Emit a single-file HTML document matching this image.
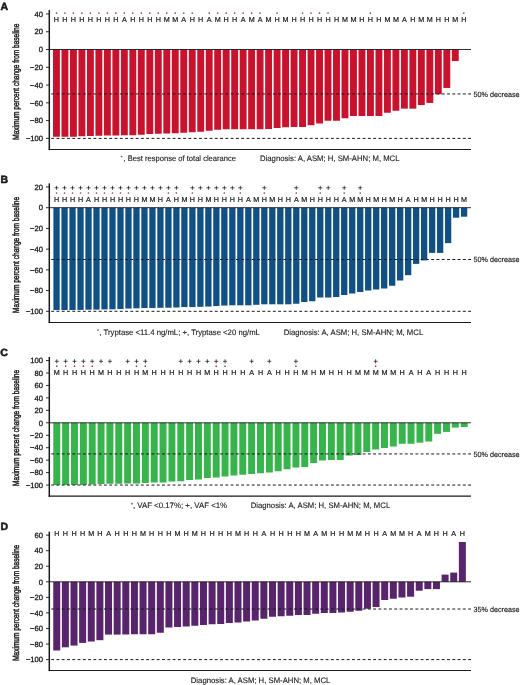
<!DOCTYPE html>
<html><head><meta charset="utf-8"><style>
html,body{margin:0;padding:0;background:#fff;}
svg{display:block;will-change:transform;filter:blur(0.3px);}
text{font-family:"Liberation Sans", sans-serif;fill:#1a1a1a;stroke:#1a1a1a;stroke-width:0.18px;text-rendering:geometricPrecision;}
</style></head><body>
<svg width="520" height="685" viewBox="0 0 520 685">
<rect x="53" y="49.5" width="6.9" height="87.25" fill="#c9132e"/>
<rect x="61.49" y="49.5" width="6.9" height="87.25" fill="#c9132e"/>
<rect x="69.97" y="49.5" width="6.9" height="87.25" fill="#c9132e"/>
<rect x="78.46" y="49.5" width="6.9" height="86.75" fill="#c9132e"/>
<rect x="86.94" y="49.5" width="6.9" height="86.5" fill="#c9132e"/>
<rect x="95.43" y="49.5" width="6.9" height="86.25" fill="#c9132e"/>
<rect x="103.92" y="49.5" width="6.9" height="86" fill="#c9132e"/>
<rect x="112.4" y="49.5" width="6.9" height="86" fill="#c9132e"/>
<rect x="120.89" y="49.5" width="6.9" height="85.75" fill="#c9132e"/>
<rect x="129.37" y="49.5" width="6.9" height="85.75" fill="#c9132e"/>
<rect x="137.86" y="49.5" width="6.9" height="85.25" fill="#c9132e"/>
<rect x="146.35" y="49.5" width="6.9" height="84.5" fill="#c9132e"/>
<rect x="154.83" y="49.5" width="6.9" height="84.25" fill="#c9132e"/>
<rect x="163.32" y="49.5" width="6.9" height="84" fill="#c9132e"/>
<rect x="171.8" y="49.5" width="6.9" height="83.75" fill="#c9132e"/>
<rect x="180.29" y="49.5" width="6.9" height="83.25" fill="#c9132e"/>
<rect x="188.78" y="49.5" width="6.9" height="82.75" fill="#c9132e"/>
<rect x="197.26" y="49.5" width="6.9" height="82.25" fill="#c9132e"/>
<rect x="205.75" y="49.5" width="6.9" height="81.25" fill="#c9132e"/>
<rect x="214.23" y="49.5" width="6.9" height="80.25" fill="#c9132e"/>
<rect x="222.72" y="49.5" width="6.9" height="79.75" fill="#c9132e"/>
<rect x="231.21" y="49.5" width="6.9" height="79.75" fill="#c9132e"/>
<rect x="239.69" y="49.5" width="6.9" height="79.75" fill="#c9132e"/>
<rect x="248.18" y="49.5" width="6.9" height="79.75" fill="#c9132e"/>
<rect x="256.66" y="49.5" width="6.9" height="79.75" fill="#c9132e"/>
<rect x="265.15" y="49.5" width="6.9" height="79.5" fill="#c9132e"/>
<rect x="273.64" y="49.5" width="6.9" height="78.5" fill="#c9132e"/>
<rect x="282.12" y="49.5" width="6.9" height="77.75" fill="#c9132e"/>
<rect x="290.61" y="49.5" width="6.9" height="77.5" fill="#c9132e"/>
<rect x="299.09" y="49.5" width="6.9" height="77.5" fill="#c9132e"/>
<rect x="307.58" y="49.5" width="6.9" height="75.75" fill="#c9132e"/>
<rect x="316.07" y="49.5" width="6.9" height="74" fill="#c9132e"/>
<rect x="324.55" y="49.5" width="6.9" height="71.25" fill="#c9132e"/>
<rect x="333.04" y="49.5" width="6.9" height="71.25" fill="#c9132e"/>
<rect x="341.52" y="49.5" width="6.9" height="68.75" fill="#c9132e"/>
<rect x="350.01" y="49.5" width="6.9" height="66.5" fill="#c9132e"/>
<rect x="358.5" y="49.5" width="6.9" height="66.5" fill="#c9132e"/>
<rect x="366.98" y="49.5" width="6.9" height="66.5" fill="#c9132e"/>
<rect x="375.47" y="49.5" width="6.9" height="66.5" fill="#c9132e"/>
<rect x="383.95" y="49.5" width="6.9" height="63.25" fill="#c9132e"/>
<rect x="392.44" y="49.5" width="6.9" height="61.25" fill="#c9132e"/>
<rect x="400.93" y="49.5" width="6.9" height="59.15" fill="#c9132e"/>
<rect x="409.41" y="49.5" width="6.9" height="59.15" fill="#c9132e"/>
<rect x="417.9" y="49.5" width="6.9" height="55.55" fill="#c9132e"/>
<rect x="426.38" y="49.5" width="6.9" height="53.45" fill="#c9132e"/>
<rect x="434.87" y="49.5" width="6.9" height="44.75" fill="#c9132e"/>
<rect x="443.36" y="49.5" width="6.9" height="38.45" fill="#c9132e"/>
<rect x="451.84" y="49.5" width="6.9" height="11.55" fill="#c9132e"/>
<line x1="49.3" y1="49.5" x2="471" y2="49.5" stroke="#1a1a1a" stroke-width="0.9"/>
<line x1="49.3" y1="93.95" x2="471" y2="93.95" stroke="#1a1a1a" stroke-width="1.0" stroke-dasharray="2.9 2.378" stroke-dashoffset="3.378"/>
<text x="473.6" y="96.7" font-size="7.6" textLength="45.9" lengthAdjust="spacingAndGlyphs" style="stroke-width:0.15px">50% decrease</text>
<line x1="49.3" y1="138.4" x2="471" y2="138.4" stroke="#1a1a1a" stroke-width="1.0" stroke-dasharray="2.9 2.378" stroke-dashoffset="3.378"/>
<line x1="49.3" y1="10.1" x2="49.3" y2="150.1" stroke="#1a1a1a" stroke-width="1.5"/>
<line x1="48.7" y1="149.5" x2="471" y2="149.5" stroke="#1a1a1a" stroke-width="1.1"/>
<line x1="46" y1="13.94" x2="49.3" y2="13.94" stroke="#1a1a1a" stroke-width="0.9"/>
<text x="43.0" y="16.64" font-size="7.6" text-anchor="end" style="stroke-width:0.3px">40</text>
<line x1="46" y1="31.72" x2="49.3" y2="31.72" stroke="#1a1a1a" stroke-width="0.9"/>
<text x="43.0" y="34.42" font-size="7.6" text-anchor="end" style="stroke-width:0.3px">20</text>
<line x1="46" y1="49.5" x2="49.3" y2="49.5" stroke="#1a1a1a" stroke-width="0.9"/>
<text x="43.0" y="52.2" font-size="7.6" text-anchor="end" style="stroke-width:0.3px">0</text>
<line x1="46" y1="67.28" x2="49.3" y2="67.28" stroke="#1a1a1a" stroke-width="0.9"/>
<text x="43.0" y="69.98" font-size="7.6" text-anchor="end" style="stroke-width:0.3px">−20</text>
<line x1="46" y1="85.06" x2="49.3" y2="85.06" stroke="#1a1a1a" stroke-width="0.9"/>
<text x="43.0" y="87.76" font-size="7.6" text-anchor="end" style="stroke-width:0.3px">−40</text>
<line x1="46" y1="102.84" x2="49.3" y2="102.84" stroke="#1a1a1a" stroke-width="0.9"/>
<text x="43.0" y="105.54" font-size="7.6" text-anchor="end" style="stroke-width:0.3px">−60</text>
<line x1="46" y1="120.62" x2="49.3" y2="120.62" stroke="#1a1a1a" stroke-width="0.9"/>
<text x="43.0" y="123.32" font-size="7.6" text-anchor="end" style="stroke-width:0.3px">−80</text>
<line x1="46" y1="138.4" x2="49.3" y2="138.4" stroke="#1a1a1a" stroke-width="0.9"/>
<text x="43.0" y="141.1" font-size="7.6" text-anchor="end" style="stroke-width:0.3px">−100</text>
<text x="56.45" y="22.3" font-size="7.2" text-anchor="middle" style="stroke-width:0.2px">H</text>
<text x="64.94" y="22.3" font-size="7.2" text-anchor="middle" style="stroke-width:0.2px">H</text>
<text x="73.42" y="22.3" font-size="7.2" text-anchor="middle" style="stroke-width:0.2px">H</text>
<text x="81.91" y="22.3" font-size="7.2" text-anchor="middle" style="stroke-width:0.2px">H</text>
<text x="90.39" y="22.3" font-size="7.2" text-anchor="middle" style="stroke-width:0.2px">H</text>
<text x="98.88" y="22.3" font-size="7.2" text-anchor="middle" style="stroke-width:0.2px">H</text>
<text x="107.37" y="22.3" font-size="7.2" text-anchor="middle" style="stroke-width:0.2px">H</text>
<text x="115.85" y="22.3" font-size="7.2" text-anchor="middle" style="stroke-width:0.2px">H</text>
<text x="124.34" y="22.3" font-size="7.2" text-anchor="middle" style="stroke-width:0.2px">A</text>
<text x="132.82" y="22.3" font-size="7.2" text-anchor="middle" style="stroke-width:0.2px">H</text>
<text x="141.31" y="22.3" font-size="7.2" text-anchor="middle" style="stroke-width:0.2px">H</text>
<text x="149.8" y="22.3" font-size="7.2" text-anchor="middle" style="stroke-width:0.2px">H</text>
<text x="158.28" y="22.3" font-size="7.2" text-anchor="middle" style="stroke-width:0.2px">H</text>
<text x="166.77" y="22.3" font-size="7.2" text-anchor="middle" style="stroke-width:0.2px">M</text>
<text x="175.25" y="22.3" font-size="7.2" text-anchor="middle" style="stroke-width:0.2px">M</text>
<text x="183.74" y="22.3" font-size="7.2" text-anchor="middle" style="stroke-width:0.2px">A</text>
<text x="192.23" y="22.3" font-size="7.2" text-anchor="middle" style="stroke-width:0.2px">H</text>
<text x="200.71" y="22.3" font-size="7.2" text-anchor="middle" style="stroke-width:0.2px">H</text>
<text x="209.2" y="22.3" font-size="7.2" text-anchor="middle" style="stroke-width:0.2px">A</text>
<text x="217.68" y="22.3" font-size="7.2" text-anchor="middle" style="stroke-width:0.2px">M</text>
<text x="226.17" y="22.3" font-size="7.2" text-anchor="middle" style="stroke-width:0.2px">H</text>
<text x="234.66" y="22.3" font-size="7.2" text-anchor="middle" style="stroke-width:0.2px">H</text>
<text x="243.14" y="22.3" font-size="7.2" text-anchor="middle" style="stroke-width:0.2px">A</text>
<text x="251.63" y="22.3" font-size="7.2" text-anchor="middle" style="stroke-width:0.2px">M</text>
<text x="260.11" y="22.3" font-size="7.2" text-anchor="middle" style="stroke-width:0.2px">A</text>
<text x="268.6" y="22.3" font-size="7.2" text-anchor="middle" style="stroke-width:0.2px">M</text>
<text x="277.09" y="22.3" font-size="7.2" text-anchor="middle" style="stroke-width:0.2px">H</text>
<text x="285.57" y="22.3" font-size="7.2" text-anchor="middle" style="stroke-width:0.2px">M</text>
<text x="294.06" y="22.3" font-size="7.2" text-anchor="middle" style="stroke-width:0.2px">H</text>
<text x="302.54" y="22.3" font-size="7.2" text-anchor="middle" style="stroke-width:0.2px">H</text>
<text x="311.03" y="22.3" font-size="7.2" text-anchor="middle" style="stroke-width:0.2px">H</text>
<text x="319.52" y="22.3" font-size="7.2" text-anchor="middle" style="stroke-width:0.2px">H</text>
<text x="328" y="22.3" font-size="7.2" text-anchor="middle" style="stroke-width:0.2px">H</text>
<text x="336.49" y="22.3" font-size="7.2" text-anchor="middle" style="stroke-width:0.2px">H</text>
<text x="344.97" y="22.3" font-size="7.2" text-anchor="middle" style="stroke-width:0.2px">M</text>
<text x="353.46" y="22.3" font-size="7.2" text-anchor="middle" style="stroke-width:0.2px">M</text>
<text x="361.95" y="22.3" font-size="7.2" text-anchor="middle" style="stroke-width:0.2px">H</text>
<text x="370.43" y="22.3" font-size="7.2" text-anchor="middle" style="stroke-width:0.2px">H</text>
<text x="378.92" y="22.3" font-size="7.2" text-anchor="middle" style="stroke-width:0.2px">H</text>
<text x="387.4" y="22.3" font-size="7.2" text-anchor="middle" style="stroke-width:0.2px">M</text>
<text x="395.89" y="22.3" font-size="7.2" text-anchor="middle" style="stroke-width:0.2px">M</text>
<text x="404.38" y="22.3" font-size="7.2" text-anchor="middle" style="stroke-width:0.2px">A</text>
<text x="412.86" y="22.3" font-size="7.2" text-anchor="middle" style="stroke-width:0.2px">H</text>
<text x="421.35" y="22.3" font-size="7.2" text-anchor="middle" style="stroke-width:0.2px">M</text>
<text x="429.83" y="22.3" font-size="7.2" text-anchor="middle" style="stroke-width:0.2px">M</text>
<text x="438.32" y="22.3" font-size="7.2" text-anchor="middle" style="stroke-width:0.2px">H</text>
<text x="446.81" y="22.3" font-size="7.2" text-anchor="middle" style="stroke-width:0.2px">H</text>
<text x="455.29" y="22.3" font-size="7.2" text-anchor="middle" style="stroke-width:0.2px">M</text>
<text x="463.78" y="22.3" font-size="7.2" text-anchor="middle" style="stroke-width:0.2px">H</text>
<circle cx="56.45" cy="13.1" r="0.85" fill="#b23a5a"/>
<circle cx="64.94" cy="13.1" r="0.85" fill="#b23a5a"/>
<circle cx="73.42" cy="13.1" r="0.85" fill="#b23a5a"/>
<circle cx="81.91" cy="13.1" r="0.85" fill="#b23a5a"/>
<circle cx="90.39" cy="13.1" r="0.85" fill="#b23a5a"/>
<circle cx="98.88" cy="13.1" r="0.85" fill="#b23a5a"/>
<circle cx="107.37" cy="13.1" r="0.85" fill="#b23a5a"/>
<circle cx="115.85" cy="13.1" r="0.85" fill="#b23a5a"/>
<circle cx="124.34" cy="13.1" r="0.85" fill="#b23a5a"/>
<circle cx="132.82" cy="13.1" r="0.85" fill="#b23a5a"/>
<circle cx="141.31" cy="13.1" r="0.85" fill="#b23a5a"/>
<circle cx="149.8" cy="13.1" r="0.85" fill="#b23a5a"/>
<circle cx="158.28" cy="13.1" r="0.85" fill="#b23a5a"/>
<circle cx="166.77" cy="13.1" r="0.85" fill="#b23a5a"/>
<circle cx="175.25" cy="13.1" r="0.85" fill="#b23a5a"/>
<circle cx="183.74" cy="13.1" r="0.85" fill="#b23a5a"/>
<circle cx="192.23" cy="13.1" r="0.85" fill="#b23a5a"/>
<circle cx="209.2" cy="13.1" r="0.85" fill="#b23a5a"/>
<circle cx="217.68" cy="13.1" r="0.85" fill="#b23a5a"/>
<circle cx="226.17" cy="13.1" r="0.85" fill="#b23a5a"/>
<circle cx="234.66" cy="13.1" r="0.85" fill="#b23a5a"/>
<circle cx="243.14" cy="13.1" r="0.85" fill="#b23a5a"/>
<circle cx="251.63" cy="13.1" r="0.85" fill="#b23a5a"/>
<circle cx="260.11" cy="13.1" r="0.85" fill="#b23a5a"/>
<circle cx="277.09" cy="13.1" r="0.85" fill="#b23a5a"/>
<circle cx="302.54" cy="13.1" r="0.85" fill="#b23a5a"/>
<circle cx="311.03" cy="13.1" r="0.85" fill="#b23a5a"/>
<circle cx="319.52" cy="13.1" r="0.85" fill="#b23a5a"/>
<circle cx="328" cy="13.1" r="0.85" fill="#b23a5a"/>
<circle cx="370.43" cy="13.1" r="0.85" fill="#b23a5a"/>
<circle cx="463.78" cy="13.1" r="0.85" fill="#b23a5a"/>
<circle cx="121.6" cy="156.5" r="0.85" fill="#b23a5a"/>
<text x="123.6" y="161" font-size="7.9" textLength="112.4" lengthAdjust="spacingAndGlyphs" style="stroke-width:0.12px">, Best response of total clearance</text>
<text x="260" y="161" font-size="7.9" textLength="139.5" lengthAdjust="spacingAndGlyphs" style="stroke-width:0.12px">Diagnosis: A, ASM; H, SM-AHN; M, MCL</text>
<text x="0.5" y="9.6" font-size="10.5" font-weight="bold" style="stroke-width:0.55px">A</text>
<text transform="translate(18.6 81.7) rotate(-90) scale(0.725 1)" text-anchor="middle" font-size="9" style="stroke-width:0.45px">Maximum percent change from baseline</text>
<rect x="53.4" y="207.7" width="6.3" height="102.35" fill="#105087"/>
<rect x="61.39" y="207.7" width="6.3" height="102.35" fill="#105087"/>
<rect x="69.38" y="207.7" width="6.3" height="102.35" fill="#105087"/>
<rect x="77.37" y="207.7" width="6.3" height="102.2" fill="#105087"/>
<rect x="85.36" y="207.7" width="6.3" height="102" fill="#105087"/>
<rect x="93.35" y="207.7" width="6.3" height="101.9" fill="#105087"/>
<rect x="101.35" y="207.7" width="6.3" height="101.7" fill="#105087"/>
<rect x="109.34" y="207.7" width="6.3" height="101.6" fill="#105087"/>
<rect x="117.33" y="207.7" width="6.3" height="101.35" fill="#105087"/>
<rect x="125.32" y="207.7" width="6.3" height="100.85" fill="#105087"/>
<rect x="133.31" y="207.7" width="6.3" height="100.6" fill="#105087"/>
<rect x="141.3" y="207.7" width="6.3" height="100.35" fill="#105087"/>
<rect x="149.29" y="207.7" width="6.3" height="100.35" fill="#105087"/>
<rect x="157.28" y="207.7" width="6.3" height="100.1" fill="#105087"/>
<rect x="165.27" y="207.7" width="6.3" height="100" fill="#105087"/>
<rect x="173.26" y="207.7" width="6.3" height="99.8" fill="#105087"/>
<rect x="181.26" y="207.7" width="6.3" height="99.35" fill="#105087"/>
<rect x="189.25" y="207.7" width="6.3" height="99.35" fill="#105087"/>
<rect x="197.24" y="207.7" width="6.3" height="99.1" fill="#105087"/>
<rect x="205.23" y="207.7" width="6.3" height="98.85" fill="#105087"/>
<rect x="213.22" y="207.7" width="6.3" height="98.35" fill="#105087"/>
<rect x="221.21" y="207.7" width="6.3" height="97.85" fill="#105087"/>
<rect x="229.2" y="207.7" width="6.3" height="97.6" fill="#105087"/>
<rect x="237.19" y="207.7" width="6.3" height="97.6" fill="#105087"/>
<rect x="245.18" y="207.7" width="6.3" height="97.6" fill="#105087"/>
<rect x="253.17" y="207.7" width="6.3" height="97.1" fill="#105087"/>
<rect x="261.17" y="207.7" width="6.3" height="96.6" fill="#105087"/>
<rect x="269.16" y="207.7" width="6.3" height="96.6" fill="#105087"/>
<rect x="277.15" y="207.7" width="6.3" height="96.6" fill="#105087"/>
<rect x="285.14" y="207.7" width="6.3" height="96.6" fill="#105087"/>
<rect x="293.13" y="207.7" width="6.3" height="96.05" fill="#105087"/>
<rect x="301.12" y="207.7" width="6.3" height="94.3" fill="#105087"/>
<rect x="309.11" y="207.7" width="6.3" height="93.55" fill="#105087"/>
<rect x="317.1" y="207.7" width="6.3" height="89.8" fill="#105087"/>
<rect x="325.09" y="207.7" width="6.3" height="89.8" fill="#105087"/>
<rect x="333.08" y="207.7" width="6.3" height="89.3" fill="#105087"/>
<rect x="341.08" y="207.7" width="6.3" height="87.3" fill="#105087"/>
<rect x="349.07" y="207.7" width="6.3" height="85.8" fill="#105087"/>
<rect x="357.06" y="207.7" width="6.3" height="84.3" fill="#105087"/>
<rect x="365.05" y="207.7" width="6.3" height="82.8" fill="#105087"/>
<rect x="373.04" y="207.7" width="6.3" height="81.8" fill="#105087"/>
<rect x="381.03" y="207.7" width="6.3" height="80.8" fill="#105087"/>
<rect x="389.02" y="207.7" width="6.3" height="78.05" fill="#105087"/>
<rect x="397.01" y="207.7" width="6.3" height="72.8" fill="#105087"/>
<rect x="405" y="207.7" width="6.3" height="67.5" fill="#105087"/>
<rect x="412.99" y="207.7" width="6.3" height="56.2" fill="#105087"/>
<rect x="420.99" y="207.7" width="6.3" height="52.7" fill="#105087"/>
<rect x="428.98" y="207.7" width="6.3" height="45.2" fill="#105087"/>
<rect x="436.97" y="207.7" width="6.3" height="45.2" fill="#105087"/>
<rect x="444.96" y="207.7" width="6.3" height="35.4" fill="#105087"/>
<rect x="452.95" y="207.7" width="6.3" height="10" fill="#105087"/>
<rect x="460.94" y="207.7" width="6.3" height="9" fill="#105087"/>
<line x1="49.3" y1="207.7" x2="471" y2="207.7" stroke="#1a1a1a" stroke-width="0.9"/>
<line x1="49.3" y1="259.5" x2="471" y2="259.5" stroke="#1a1a1a" stroke-width="1.0" stroke-dasharray="2.9 2.378" stroke-dashoffset="3.378"/>
<text x="473.6" y="262.25" font-size="7.6" textLength="45.9" lengthAdjust="spacingAndGlyphs" style="stroke-width:0.15px">50% decrease</text>
<line x1="49.3" y1="311.3" x2="471" y2="311.3" stroke="#1a1a1a" stroke-width="1.0" stroke-dasharray="2.9 2.378" stroke-dashoffset="3.378"/>
<line x1="49.3" y1="183.4" x2="49.3" y2="323.1" stroke="#1a1a1a" stroke-width="1.5"/>
<line x1="48.7" y1="322.5" x2="471" y2="322.5" stroke="#1a1a1a" stroke-width="1.1"/>
<line x1="46" y1="186.98" x2="49.3" y2="186.98" stroke="#1a1a1a" stroke-width="0.9"/>
<text x="43.0" y="189.68" font-size="7.6" text-anchor="end" style="stroke-width:0.3px">20</text>
<line x1="46" y1="207.7" x2="49.3" y2="207.7" stroke="#1a1a1a" stroke-width="0.9"/>
<text x="43.0" y="210.4" font-size="7.6" text-anchor="end" style="stroke-width:0.3px">0</text>
<line x1="46" y1="228.42" x2="49.3" y2="228.42" stroke="#1a1a1a" stroke-width="0.9"/>
<text x="43.0" y="231.12" font-size="7.6" text-anchor="end" style="stroke-width:0.3px">−20</text>
<line x1="46" y1="249.14" x2="49.3" y2="249.14" stroke="#1a1a1a" stroke-width="0.9"/>
<text x="43.0" y="251.84" font-size="7.6" text-anchor="end" style="stroke-width:0.3px">−40</text>
<line x1="46" y1="269.86" x2="49.3" y2="269.86" stroke="#1a1a1a" stroke-width="0.9"/>
<text x="43.0" y="272.56" font-size="7.6" text-anchor="end" style="stroke-width:0.3px">−60</text>
<line x1="46" y1="290.58" x2="49.3" y2="290.58" stroke="#1a1a1a" stroke-width="0.9"/>
<text x="43.0" y="293.28" font-size="7.6" text-anchor="end" style="stroke-width:0.3px">−80</text>
<line x1="46" y1="311.3" x2="49.3" y2="311.3" stroke="#1a1a1a" stroke-width="0.9"/>
<text x="43.0" y="314" font-size="7.6" text-anchor="end" style="stroke-width:0.3px">−100</text>
<text x="56.55" y="202.1" font-size="7.2" text-anchor="middle" style="stroke-width:0.2px">H</text>
<text x="64.54" y="202.1" font-size="7.2" text-anchor="middle" style="stroke-width:0.2px">H</text>
<text x="72.53" y="202.1" font-size="7.2" text-anchor="middle" style="stroke-width:0.2px">H</text>
<text x="80.52" y="202.1" font-size="7.2" text-anchor="middle" style="stroke-width:0.2px">H</text>
<text x="88.51" y="202.1" font-size="7.2" text-anchor="middle" style="stroke-width:0.2px">A</text>
<text x="96.5" y="202.1" font-size="7.2" text-anchor="middle" style="stroke-width:0.2px">H</text>
<text x="104.5" y="202.1" font-size="7.2" text-anchor="middle" style="stroke-width:0.2px">H</text>
<text x="112.49" y="202.1" font-size="7.2" text-anchor="middle" style="stroke-width:0.2px">H</text>
<text x="120.48" y="202.1" font-size="7.2" text-anchor="middle" style="stroke-width:0.2px">H</text>
<text x="128.47" y="202.1" font-size="7.2" text-anchor="middle" style="stroke-width:0.2px">H</text>
<text x="136.46" y="202.1" font-size="7.2" text-anchor="middle" style="stroke-width:0.2px">H</text>
<text x="144.45" y="202.1" font-size="7.2" text-anchor="middle" style="stroke-width:0.2px">M</text>
<text x="152.44" y="202.1" font-size="7.2" text-anchor="middle" style="stroke-width:0.2px">M</text>
<text x="160.43" y="202.1" font-size="7.2" text-anchor="middle" style="stroke-width:0.2px">H</text>
<text x="168.42" y="202.1" font-size="7.2" text-anchor="middle" style="stroke-width:0.2px">A</text>
<text x="176.41" y="202.1" font-size="7.2" text-anchor="middle" style="stroke-width:0.2px">H</text>
<text x="184.41" y="202.1" font-size="7.2" text-anchor="middle" style="stroke-width:0.2px">M</text>
<text x="192.4" y="202.1" font-size="7.2" text-anchor="middle" style="stroke-width:0.2px">H</text>
<text x="200.39" y="202.1" font-size="7.2" text-anchor="middle" style="stroke-width:0.2px">H</text>
<text x="208.38" y="202.1" font-size="7.2" text-anchor="middle" style="stroke-width:0.2px">M</text>
<text x="216.37" y="202.1" font-size="7.2" text-anchor="middle" style="stroke-width:0.2px">H</text>
<text x="224.36" y="202.1" font-size="7.2" text-anchor="middle" style="stroke-width:0.2px">H</text>
<text x="232.35" y="202.1" font-size="7.2" text-anchor="middle" style="stroke-width:0.2px">H</text>
<text x="240.34" y="202.1" font-size="7.2" text-anchor="middle" style="stroke-width:0.2px">H</text>
<text x="248.33" y="202.1" font-size="7.2" text-anchor="middle" style="stroke-width:0.2px">A</text>
<text x="256.32" y="202.1" font-size="7.2" text-anchor="middle" style="stroke-width:0.2px">M</text>
<text x="264.32" y="202.1" font-size="7.2" text-anchor="middle" style="stroke-width:0.2px">H</text>
<text x="272.31" y="202.1" font-size="7.2" text-anchor="middle" style="stroke-width:0.2px">M</text>
<text x="280.3" y="202.1" font-size="7.2" text-anchor="middle" style="stroke-width:0.2px">H</text>
<text x="288.29" y="202.1" font-size="7.2" text-anchor="middle" style="stroke-width:0.2px">H</text>
<text x="296.28" y="202.1" font-size="7.2" text-anchor="middle" style="stroke-width:0.2px">A</text>
<text x="304.27" y="202.1" font-size="7.2" text-anchor="middle" style="stroke-width:0.2px">M</text>
<text x="312.26" y="202.1" font-size="7.2" text-anchor="middle" style="stroke-width:0.2px">H</text>
<text x="320.25" y="202.1" font-size="7.2" text-anchor="middle" style="stroke-width:0.2px">H</text>
<text x="328.24" y="202.1" font-size="7.2" text-anchor="middle" style="stroke-width:0.2px">H</text>
<text x="336.23" y="202.1" font-size="7.2" text-anchor="middle" style="stroke-width:0.2px">H</text>
<text x="344.23" y="202.1" font-size="7.2" text-anchor="middle" style="stroke-width:0.2px">A</text>
<text x="352.22" y="202.1" font-size="7.2" text-anchor="middle" style="stroke-width:0.2px">M</text>
<text x="360.21" y="202.1" font-size="7.2" text-anchor="middle" style="stroke-width:0.2px">M</text>
<text x="368.2" y="202.1" font-size="7.2" text-anchor="middle" style="stroke-width:0.2px">H</text>
<text x="376.19" y="202.1" font-size="7.2" text-anchor="middle" style="stroke-width:0.2px">M</text>
<text x="384.18" y="202.1" font-size="7.2" text-anchor="middle" style="stroke-width:0.2px">H</text>
<text x="392.17" y="202.1" font-size="7.2" text-anchor="middle" style="stroke-width:0.2px">M</text>
<text x="400.16" y="202.1" font-size="7.2" text-anchor="middle" style="stroke-width:0.2px">H</text>
<text x="408.15" y="202.1" font-size="7.2" text-anchor="middle" style="stroke-width:0.2px">A</text>
<text x="416.14" y="202.1" font-size="7.2" text-anchor="middle" style="stroke-width:0.2px">H</text>
<text x="424.14" y="202.1" font-size="7.2" text-anchor="middle" style="stroke-width:0.2px">M</text>
<text x="432.13" y="202.1" font-size="7.2" text-anchor="middle" style="stroke-width:0.2px">H</text>
<text x="440.12" y="202.1" font-size="7.2" text-anchor="middle" style="stroke-width:0.2px">H</text>
<text x="448.11" y="202.1" font-size="7.2" text-anchor="middle" style="stroke-width:0.2px">H</text>
<text x="456.1" y="202.1" font-size="7.2" text-anchor="middle" style="stroke-width:0.2px">H</text>
<text x="464.09" y="202.1" font-size="7.2" text-anchor="middle" style="stroke-width:0.2px">M</text>
<circle cx="56.55" cy="193" r="0.85" fill="#b23a5a"/>
<circle cx="64.54" cy="193" r="0.85" fill="#b23a5a"/>
<circle cx="72.53" cy="193" r="0.85" fill="#b23a5a"/>
<circle cx="80.52" cy="193" r="0.85" fill="#b23a5a"/>
<circle cx="88.51" cy="193" r="0.85" fill="#b23a5a"/>
<circle cx="96.5" cy="193" r="0.85" fill="#b23a5a"/>
<circle cx="104.5" cy="193" r="0.85" fill="#b23a5a"/>
<circle cx="112.49" cy="193" r="0.85" fill="#b23a5a"/>
<circle cx="120.48" cy="193" r="0.85" fill="#b23a5a"/>
<circle cx="128.47" cy="193" r="0.85" fill="#b23a5a"/>
<circle cx="168.42" cy="193" r="0.85" fill="#b23a5a"/>
<circle cx="176.41" cy="193" r="0.85" fill="#b23a5a"/>
<circle cx="192.4" cy="193" r="0.85" fill="#b23a5a"/>
<circle cx="224.36" cy="193" r="0.85" fill="#b23a5a"/>
<circle cx="240.34" cy="193" r="0.85" fill="#b23a5a"/>
<circle cx="264.32" cy="193" r="0.85" fill="#b23a5a"/>
<circle cx="296.28" cy="193" r="0.85" fill="#b23a5a"/>
<circle cx="320.25" cy="193" r="0.85" fill="#b23a5a"/>
<circle cx="344.23" cy="193" r="0.85" fill="#b23a5a"/>
<circle cx="360.21" cy="193" r="0.85" fill="#b23a5a"/>
<path d="M54.55 187.8H58.55M56.55 185.8V189.8" stroke="#1a1a1a" stroke-width="0.75"/>
<path d="M62.54 187.8H66.54M64.54 185.8V189.8" stroke="#1a1a1a" stroke-width="0.75"/>
<path d="M70.53 187.8H74.53M72.53 185.8V189.8" stroke="#1a1a1a" stroke-width="0.75"/>
<path d="M78.52 187.8H82.52M80.52 185.8V189.8" stroke="#1a1a1a" stroke-width="0.75"/>
<path d="M86.51 187.8H90.51M88.51 185.8V189.8" stroke="#1a1a1a" stroke-width="0.75"/>
<path d="M94.5 187.8H98.5M96.5 185.8V189.8" stroke="#1a1a1a" stroke-width="0.75"/>
<path d="M102.5 187.8H106.5M104.5 185.8V189.8" stroke="#1a1a1a" stroke-width="0.75"/>
<path d="M110.49 187.8H114.49M112.49 185.8V189.8" stroke="#1a1a1a" stroke-width="0.75"/>
<path d="M118.48 187.8H122.48M120.48 185.8V189.8" stroke="#1a1a1a" stroke-width="0.75"/>
<path d="M126.47 187.8H130.47M128.47 185.8V189.8" stroke="#1a1a1a" stroke-width="0.75"/>
<path d="M134.46 187.8H138.46M136.46 185.8V189.8" stroke="#1a1a1a" stroke-width="0.75"/>
<path d="M142.45 187.8H146.45M144.45 185.8V189.8" stroke="#1a1a1a" stroke-width="0.75"/>
<path d="M150.44 187.8H154.44M152.44 185.8V189.8" stroke="#1a1a1a" stroke-width="0.75"/>
<path d="M158.43 187.8H162.43M160.43 185.8V189.8" stroke="#1a1a1a" stroke-width="0.75"/>
<path d="M166.42 187.8H170.42M168.42 185.8V189.8" stroke="#1a1a1a" stroke-width="0.75"/>
<path d="M174.41 187.8H178.41M176.41 185.8V189.8" stroke="#1a1a1a" stroke-width="0.75"/>
<path d="M190.4 187.8H194.4M192.4 185.8V189.8" stroke="#1a1a1a" stroke-width="0.75"/>
<path d="M198.39 187.8H202.39M200.39 185.8V189.8" stroke="#1a1a1a" stroke-width="0.75"/>
<path d="M206.38 187.8H210.38M208.38 185.8V189.8" stroke="#1a1a1a" stroke-width="0.75"/>
<path d="M214.37 187.8H218.37M216.37 185.8V189.8" stroke="#1a1a1a" stroke-width="0.75"/>
<path d="M222.36 187.8H226.36M224.36 185.8V189.8" stroke="#1a1a1a" stroke-width="0.75"/>
<path d="M230.35 187.8H234.35M232.35 185.8V189.8" stroke="#1a1a1a" stroke-width="0.75"/>
<path d="M238.34 187.8H242.34M240.34 185.8V189.8" stroke="#1a1a1a" stroke-width="0.75"/>
<path d="M262.32 187.8H266.32M264.32 185.8V189.8" stroke="#1a1a1a" stroke-width="0.75"/>
<path d="M294.28 187.8H298.28M296.28 185.8V189.8" stroke="#1a1a1a" stroke-width="0.75"/>
<path d="M318.25 187.8H322.25M320.25 185.8V189.8" stroke="#1a1a1a" stroke-width="0.75"/>
<path d="M326.24 187.8H330.24M328.24 185.8V189.8" stroke="#1a1a1a" stroke-width="0.75"/>
<path d="M342.23 187.8H346.23M344.23 185.8V189.8" stroke="#1a1a1a" stroke-width="0.75"/>
<path d="M358.21 187.8H362.21M360.21 185.8V189.8" stroke="#1a1a1a" stroke-width="0.75"/>
<circle cx="98" cy="330" r="0.85" fill="#b23a5a"/>
<text x="99.4" y="334.5" font-size="7.9" textLength="160.5" lengthAdjust="spacingAndGlyphs" style="stroke-width:0.12px">, Tryptase &lt;11.4 ng/mL; +, Tryptase &lt;20 ng/mL</text>
<text x="283.7" y="334.5" font-size="7.9" textLength="139.5" lengthAdjust="spacingAndGlyphs" style="stroke-width:0.12px">Diagnosis: A, ASM; H, SM-AHN; M, MCL</text>
<text x="0.4" y="183.3" font-size="10.5" font-weight="bold" style="stroke-width:0.55px">B</text>
<text transform="translate(18.6 254.9) rotate(-90) scale(0.725 1)" text-anchor="middle" font-size="9" style="stroke-width:0.45px">Maximum percent change from baseline</text>
<rect x="53.3" y="422.8" width="6.95" height="62.2" fill="#37b44b"/>
<rect x="62.16" y="422.8" width="6.95" height="62.2" fill="#37b44b"/>
<rect x="71.01" y="422.8" width="6.95" height="62.2" fill="#37b44b"/>
<rect x="79.87" y="422.8" width="6.95" height="62.2" fill="#37b44b"/>
<rect x="88.73" y="422.8" width="6.95" height="61.7" fill="#37b44b"/>
<rect x="97.58" y="422.8" width="6.95" height="61.2" fill="#37b44b"/>
<rect x="106.44" y="422.8" width="6.95" height="60.95" fill="#37b44b"/>
<rect x="115.3" y="422.8" width="6.95" height="60.95" fill="#37b44b"/>
<rect x="124.16" y="422.8" width="6.95" height="60.7" fill="#37b44b"/>
<rect x="133.01" y="422.8" width="6.95" height="60.7" fill="#37b44b"/>
<rect x="141.87" y="422.8" width="6.95" height="60.2" fill="#37b44b"/>
<rect x="150.73" y="422.8" width="6.95" height="59.7" fill="#37b44b"/>
<rect x="159.58" y="422.8" width="6.95" height="59.7" fill="#37b44b"/>
<rect x="168.44" y="422.8" width="6.95" height="58.7" fill="#37b44b"/>
<rect x="177.3" y="422.8" width="6.95" height="58.45" fill="#37b44b"/>
<rect x="186.15" y="422.8" width="6.95" height="57.2" fill="#37b44b"/>
<rect x="195.01" y="422.8" width="6.95" height="56.7" fill="#37b44b"/>
<rect x="203.87" y="422.8" width="6.95" height="55.2" fill="#37b44b"/>
<rect x="212.73" y="422.8" width="6.95" height="54.7" fill="#37b44b"/>
<rect x="221.58" y="422.8" width="6.95" height="53.7" fill="#37b44b"/>
<rect x="230.44" y="422.8" width="6.95" height="52.7" fill="#37b44b"/>
<rect x="239.3" y="422.8" width="6.95" height="51.95" fill="#37b44b"/>
<rect x="248.15" y="422.8" width="6.95" height="51.2" fill="#37b44b"/>
<rect x="257.01" y="422.8" width="6.95" height="50.45" fill="#37b44b"/>
<rect x="265.87" y="422.8" width="6.95" height="49.7" fill="#37b44b"/>
<rect x="274.72" y="422.8" width="6.95" height="48.45" fill="#37b44b"/>
<rect x="283.58" y="422.8" width="6.95" height="46.45" fill="#37b44b"/>
<rect x="292.44" y="422.8" width="6.95" height="44.7" fill="#37b44b"/>
<rect x="301.3" y="422.8" width="6.95" height="44.2" fill="#37b44b"/>
<rect x="310.15" y="422.8" width="6.95" height="40.2" fill="#37b44b"/>
<rect x="319.01" y="422.8" width="6.95" height="37.7" fill="#37b44b"/>
<rect x="327.87" y="422.8" width="6.95" height="37.2" fill="#37b44b"/>
<rect x="336.72" y="422.8" width="6.95" height="37.2" fill="#37b44b"/>
<rect x="345.58" y="422.8" width="6.95" height="32.7" fill="#37b44b"/>
<rect x="354.44" y="422.8" width="6.95" height="32.2" fill="#37b44b"/>
<rect x="363.3" y="422.8" width="6.95" height="29.2" fill="#37b44b"/>
<rect x="372.15" y="422.8" width="6.95" height="26.7" fill="#37b44b"/>
<rect x="381.01" y="422.8" width="6.95" height="25.2" fill="#37b44b"/>
<rect x="389.87" y="422.8" width="6.95" height="23.7" fill="#37b44b"/>
<rect x="398.72" y="422.8" width="6.95" height="21" fill="#37b44b"/>
<rect x="407.58" y="422.8" width="6.95" height="21" fill="#37b44b"/>
<rect x="416.44" y="422.8" width="6.95" height="19.9" fill="#37b44b"/>
<rect x="425.29" y="422.8" width="6.95" height="18.7" fill="#37b44b"/>
<rect x="434.15" y="422.8" width="6.95" height="11" fill="#37b44b"/>
<rect x="443.01" y="422.8" width="6.95" height="9.1" fill="#37b44b"/>
<rect x="451.86" y="422.8" width="6.95" height="4.8" fill="#37b44b"/>
<rect x="460.72" y="422.8" width="6.95" height="4.2" fill="#37b44b"/>
<line x1="49.3" y1="422.8" x2="471" y2="422.8" stroke="#1a1a1a" stroke-width="0.9"/>
<line x1="49.3" y1="453.93" x2="471" y2="453.93" stroke="#1a1a1a" stroke-width="1.0" stroke-dasharray="2.9 2.378" stroke-dashoffset="3.378"/>
<text x="473.6" y="456.68" font-size="7.6" textLength="45.9" lengthAdjust="spacingAndGlyphs" style="stroke-width:0.15px">50% decrease</text>
<line x1="49.3" y1="485.05" x2="471" y2="485.05" stroke="#1a1a1a" stroke-width="1.0" stroke-dasharray="2.9 2.378" stroke-dashoffset="3.378"/>
<line x1="49.3" y1="356.9" x2="49.3" y2="496.7" stroke="#1a1a1a" stroke-width="1.5"/>
<line x1="48.7" y1="496.1" x2="471" y2="496.1" stroke="#1a1a1a" stroke-width="1.1"/>
<line x1="46" y1="360.55" x2="49.3" y2="360.55" stroke="#1a1a1a" stroke-width="0.9"/>
<text x="43.0" y="363.25" font-size="7.6" text-anchor="end" style="stroke-width:0.3px">100</text>
<line x1="46" y1="373" x2="49.3" y2="373" stroke="#1a1a1a" stroke-width="0.9"/>
<text x="43.0" y="375.7" font-size="7.6" text-anchor="end" style="stroke-width:0.3px">80</text>
<line x1="46" y1="385.45" x2="49.3" y2="385.45" stroke="#1a1a1a" stroke-width="0.9"/>
<text x="43.0" y="388.15" font-size="7.6" text-anchor="end" style="stroke-width:0.3px">60</text>
<line x1="46" y1="397.9" x2="49.3" y2="397.9" stroke="#1a1a1a" stroke-width="0.9"/>
<text x="43.0" y="400.6" font-size="7.6" text-anchor="end" style="stroke-width:0.3px">40</text>
<line x1="46" y1="410.35" x2="49.3" y2="410.35" stroke="#1a1a1a" stroke-width="0.9"/>
<text x="43.0" y="413.05" font-size="7.6" text-anchor="end" style="stroke-width:0.3px">20</text>
<line x1="46" y1="422.8" x2="49.3" y2="422.8" stroke="#1a1a1a" stroke-width="0.9"/>
<text x="43.0" y="425.5" font-size="7.6" text-anchor="end" style="stroke-width:0.3px">0</text>
<line x1="46" y1="435.25" x2="49.3" y2="435.25" stroke="#1a1a1a" stroke-width="0.9"/>
<text x="43.0" y="437.95" font-size="7.6" text-anchor="end" style="stroke-width:0.3px">−20</text>
<line x1="46" y1="447.7" x2="49.3" y2="447.7" stroke="#1a1a1a" stroke-width="0.9"/>
<text x="43.0" y="450.4" font-size="7.6" text-anchor="end" style="stroke-width:0.3px">−40</text>
<line x1="46" y1="460.15" x2="49.3" y2="460.15" stroke="#1a1a1a" stroke-width="0.9"/>
<text x="43.0" y="462.85" font-size="7.6" text-anchor="end" style="stroke-width:0.3px">−60</text>
<line x1="46" y1="472.6" x2="49.3" y2="472.6" stroke="#1a1a1a" stroke-width="0.9"/>
<text x="43.0" y="475.3" font-size="7.6" text-anchor="end" style="stroke-width:0.3px">−80</text>
<line x1="46" y1="485.05" x2="49.3" y2="485.05" stroke="#1a1a1a" stroke-width="0.9"/>
<text x="43.0" y="487.75" font-size="7.6" text-anchor="end" style="stroke-width:0.3px">−100</text>
<text x="56.77" y="374.9" font-size="7.2" text-anchor="middle" style="stroke-width:0.2px">M</text>
<text x="65.63" y="374.9" font-size="7.2" text-anchor="middle" style="stroke-width:0.2px">H</text>
<text x="74.49" y="374.9" font-size="7.2" text-anchor="middle" style="stroke-width:0.2px">H</text>
<text x="83.35" y="374.9" font-size="7.2" text-anchor="middle" style="stroke-width:0.2px">H</text>
<text x="92.2" y="374.9" font-size="7.2" text-anchor="middle" style="stroke-width:0.2px">H</text>
<text x="101.06" y="374.9" font-size="7.2" text-anchor="middle" style="stroke-width:0.2px">M</text>
<text x="109.92" y="374.9" font-size="7.2" text-anchor="middle" style="stroke-width:0.2px">H</text>
<text x="118.77" y="374.9" font-size="7.2" text-anchor="middle" style="stroke-width:0.2px">H</text>
<text x="127.63" y="374.9" font-size="7.2" text-anchor="middle" style="stroke-width:0.2px">H</text>
<text x="136.49" y="374.9" font-size="7.2" text-anchor="middle" style="stroke-width:0.2px">H</text>
<text x="145.34" y="374.9" font-size="7.2" text-anchor="middle" style="stroke-width:0.2px">M</text>
<text x="154.2" y="374.9" font-size="7.2" text-anchor="middle" style="stroke-width:0.2px">H</text>
<text x="163.06" y="374.9" font-size="7.2" text-anchor="middle" style="stroke-width:0.2px">H</text>
<text x="171.92" y="374.9" font-size="7.2" text-anchor="middle" style="stroke-width:0.2px">H</text>
<text x="180.77" y="374.9" font-size="7.2" text-anchor="middle" style="stroke-width:0.2px">H</text>
<text x="189.63" y="374.9" font-size="7.2" text-anchor="middle" style="stroke-width:0.2px">H</text>
<text x="198.49" y="374.9" font-size="7.2" text-anchor="middle" style="stroke-width:0.2px">H</text>
<text x="207.34" y="374.9" font-size="7.2" text-anchor="middle" style="stroke-width:0.2px">M</text>
<text x="216.2" y="374.9" font-size="7.2" text-anchor="middle" style="stroke-width:0.2px">H</text>
<text x="225.06" y="374.9" font-size="7.2" text-anchor="middle" style="stroke-width:0.2px">H</text>
<text x="233.91" y="374.9" font-size="7.2" text-anchor="middle" style="stroke-width:0.2px">H</text>
<text x="242.77" y="374.9" font-size="7.2" text-anchor="middle" style="stroke-width:0.2px">H</text>
<text x="251.63" y="374.9" font-size="7.2" text-anchor="middle" style="stroke-width:0.2px">A</text>
<text x="260.49" y="374.9" font-size="7.2" text-anchor="middle" style="stroke-width:0.2px">H</text>
<text x="269.34" y="374.9" font-size="7.2" text-anchor="middle" style="stroke-width:0.2px">A</text>
<text x="278.2" y="374.9" font-size="7.2" text-anchor="middle" style="stroke-width:0.2px">H</text>
<text x="287.06" y="374.9" font-size="7.2" text-anchor="middle" style="stroke-width:0.2px">H</text>
<text x="295.91" y="374.9" font-size="7.2" text-anchor="middle" style="stroke-width:0.2px">H</text>
<text x="304.77" y="374.9" font-size="7.2" text-anchor="middle" style="stroke-width:0.2px">M</text>
<text x="313.63" y="374.9" font-size="7.2" text-anchor="middle" style="stroke-width:0.2px">H</text>
<text x="322.49" y="374.9" font-size="7.2" text-anchor="middle" style="stroke-width:0.2px">M</text>
<text x="331.34" y="374.9" font-size="7.2" text-anchor="middle" style="stroke-width:0.2px">H</text>
<text x="340.2" y="374.9" font-size="7.2" text-anchor="middle" style="stroke-width:0.2px">H</text>
<text x="349.06" y="374.9" font-size="7.2" text-anchor="middle" style="stroke-width:0.2px">H</text>
<text x="357.91" y="374.9" font-size="7.2" text-anchor="middle" style="stroke-width:0.2px">M</text>
<text x="366.77" y="374.9" font-size="7.2" text-anchor="middle" style="stroke-width:0.2px">M</text>
<text x="375.63" y="374.9" font-size="7.2" text-anchor="middle" style="stroke-width:0.2px">M</text>
<text x="384.48" y="374.9" font-size="7.2" text-anchor="middle" style="stroke-width:0.2px">M</text>
<text x="393.34" y="374.9" font-size="7.2" text-anchor="middle" style="stroke-width:0.2px">M</text>
<text x="402.2" y="374.9" font-size="7.2" text-anchor="middle" style="stroke-width:0.2px">H</text>
<text x="411.06" y="374.9" font-size="7.2" text-anchor="middle" style="stroke-width:0.2px">A</text>
<text x="419.91" y="374.9" font-size="7.2" text-anchor="middle" style="stroke-width:0.2px">H</text>
<text x="428.77" y="374.9" font-size="7.2" text-anchor="middle" style="stroke-width:0.2px">A</text>
<text x="437.63" y="374.9" font-size="7.2" text-anchor="middle" style="stroke-width:0.2px">H</text>
<text x="446.48" y="374.9" font-size="7.2" text-anchor="middle" style="stroke-width:0.2px">H</text>
<text x="455.34" y="374.9" font-size="7.2" text-anchor="middle" style="stroke-width:0.2px">H</text>
<text x="464.2" y="374.9" font-size="7.2" text-anchor="middle" style="stroke-width:0.2px">H</text>
<circle cx="56.77" cy="366.2" r="0.85" fill="#b23a5a"/>
<circle cx="65.63" cy="366.2" r="0.85" fill="#b23a5a"/>
<circle cx="74.49" cy="366.2" r="0.85" fill="#b23a5a"/>
<circle cx="83.35" cy="366.2" r="0.85" fill="#b23a5a"/>
<circle cx="92.2" cy="366.2" r="0.85" fill="#b23a5a"/>
<circle cx="136.49" cy="366.2" r="0.85" fill="#b23a5a"/>
<circle cx="145.34" cy="366.2" r="0.85" fill="#b23a5a"/>
<circle cx="216.2" cy="366.2" r="0.85" fill="#b23a5a"/>
<circle cx="225.06" cy="366.2" r="0.85" fill="#b23a5a"/>
<circle cx="295.91" cy="366.2" r="0.85" fill="#b23a5a"/>
<circle cx="375.63" cy="366.2" r="0.85" fill="#b23a5a"/>
<path d="M54.77 361.3H58.77M56.77 359.3V363.3" stroke="#1a1a1a" stroke-width="0.75"/>
<path d="M63.63 361.3H67.63M65.63 359.3V363.3" stroke="#1a1a1a" stroke-width="0.75"/>
<path d="M72.49 361.3H76.49M74.49 359.3V363.3" stroke="#1a1a1a" stroke-width="0.75"/>
<path d="M81.35 361.3H85.35M83.35 359.3V363.3" stroke="#1a1a1a" stroke-width="0.75"/>
<path d="M90.2 361.3H94.2M92.2 359.3V363.3" stroke="#1a1a1a" stroke-width="0.75"/>
<path d="M99.06 361.3H103.06M101.06 359.3V363.3" stroke="#1a1a1a" stroke-width="0.75"/>
<path d="M107.92 361.3H111.92M109.92 359.3V363.3" stroke="#1a1a1a" stroke-width="0.75"/>
<path d="M125.63 361.3H129.63M127.63 359.3V363.3" stroke="#1a1a1a" stroke-width="0.75"/>
<path d="M134.49 361.3H138.49M136.49 359.3V363.3" stroke="#1a1a1a" stroke-width="0.75"/>
<path d="M143.34 361.3H147.34M145.34 359.3V363.3" stroke="#1a1a1a" stroke-width="0.75"/>
<path d="M178.77 361.3H182.77M180.77 359.3V363.3" stroke="#1a1a1a" stroke-width="0.75"/>
<path d="M187.63 361.3H191.63M189.63 359.3V363.3" stroke="#1a1a1a" stroke-width="0.75"/>
<path d="M196.49 361.3H200.49M198.49 359.3V363.3" stroke="#1a1a1a" stroke-width="0.75"/>
<path d="M205.34 361.3H209.34M207.34 359.3V363.3" stroke="#1a1a1a" stroke-width="0.75"/>
<path d="M214.2 361.3H218.2M216.2 359.3V363.3" stroke="#1a1a1a" stroke-width="0.75"/>
<path d="M223.06 361.3H227.06M225.06 359.3V363.3" stroke="#1a1a1a" stroke-width="0.75"/>
<path d="M249.63 361.3H253.63M251.63 359.3V363.3" stroke="#1a1a1a" stroke-width="0.75"/>
<path d="M267.34 361.3H271.34M269.34 359.3V363.3" stroke="#1a1a1a" stroke-width="0.75"/>
<path d="M293.91 361.3H297.91M295.91 359.3V363.3" stroke="#1a1a1a" stroke-width="0.75"/>
<path d="M373.63 361.3H377.63M375.63 359.3V363.3" stroke="#1a1a1a" stroke-width="0.75"/>
<circle cx="131.9" cy="503.7" r="0.85" fill="#b23a5a"/>
<text x="132.9" y="508.2" font-size="7.9" textLength="94.2" lengthAdjust="spacingAndGlyphs" style="stroke-width:0.12px">, VAF &lt;0.17%; +, VAF &lt;1%</text>
<text x="250.7" y="508.2" font-size="7.9" textLength="139.5" lengthAdjust="spacingAndGlyphs" style="stroke-width:0.12px">Diagnosis: A, ASM; H, SM-AHN; M, MCL</text>
<text x="0.3" y="356.3" font-size="10.5" font-weight="bold" style="stroke-width:0.55px">C</text>
<text transform="translate(18.6 427.9) rotate(-90) scale(0.725 1)" text-anchor="middle" font-size="9" style="stroke-width:0.45px">Maximum percent change from baseline</text>
<rect x="53.25" y="581.8" width="7" height="68.7" fill="#58246c"/>
<rect x="61.88" y="581.8" width="7" height="65.5" fill="#58246c"/>
<rect x="70.51" y="581.8" width="7" height="63.8" fill="#58246c"/>
<rect x="79.14" y="581.8" width="7" height="61.1" fill="#58246c"/>
<rect x="87.77" y="581.8" width="7" height="59.7" fill="#58246c"/>
<rect x="96.4" y="581.8" width="7" height="58.4" fill="#58246c"/>
<rect x="105.03" y="581.8" width="7" height="52.8" fill="#58246c"/>
<rect x="113.66" y="581.8" width="7" height="52.8" fill="#58246c"/>
<rect x="122.29" y="581.8" width="7" height="52.7" fill="#58246c"/>
<rect x="130.92" y="581.8" width="7" height="52.45" fill="#58246c"/>
<rect x="139.55" y="581.8" width="7" height="52.45" fill="#58246c"/>
<rect x="148.18" y="581.8" width="7" height="52.45" fill="#58246c"/>
<rect x="156.81" y="581.8" width="7" height="50.95" fill="#58246c"/>
<rect x="165.44" y="581.8" width="7" height="45.7" fill="#58246c"/>
<rect x="174.07" y="581.8" width="7" height="45.2" fill="#58246c"/>
<rect x="182.7" y="581.8" width="7" height="44.7" fill="#58246c"/>
<rect x="191.33" y="581.8" width="7" height="43.95" fill="#58246c"/>
<rect x="199.96" y="581.8" width="7" height="43.2" fill="#58246c"/>
<rect x="208.59" y="581.8" width="7" height="42.45" fill="#58246c"/>
<rect x="217.22" y="581.8" width="7" height="42.2" fill="#58246c"/>
<rect x="225.85" y="581.8" width="7" height="41.2" fill="#58246c"/>
<rect x="234.48" y="581.8" width="7" height="40.7" fill="#58246c"/>
<rect x="243.11" y="581.8" width="7" height="39.7" fill="#58246c"/>
<rect x="251.74" y="581.8" width="7" height="38.7" fill="#58246c"/>
<rect x="260.37" y="581.8" width="7" height="36.95" fill="#58246c"/>
<rect x="269" y="581.8" width="7" height="34.95" fill="#58246c"/>
<rect x="277.63" y="581.8" width="7" height="34.45" fill="#58246c"/>
<rect x="286.26" y="581.8" width="7" height="33.95" fill="#58246c"/>
<rect x="294.89" y="581.8" width="7" height="33.2" fill="#58246c"/>
<rect x="303.52" y="581.8" width="7" height="33.2" fill="#58246c"/>
<rect x="312.15" y="581.8" width="7" height="31.95" fill="#58246c"/>
<rect x="320.78" y="581.8" width="7" height="31.2" fill="#58246c"/>
<rect x="329.41" y="581.8" width="7" height="31.2" fill="#58246c"/>
<rect x="338.04" y="581.8" width="7" height="30.7" fill="#58246c"/>
<rect x="346.67" y="581.8" width="7" height="29.95" fill="#58246c"/>
<rect x="355.3" y="581.8" width="7" height="28.95" fill="#58246c"/>
<rect x="363.93" y="581.8" width="7" height="26.95" fill="#58246c"/>
<rect x="372.56" y="581.8" width="7" height="25.2" fill="#58246c"/>
<rect x="381.19" y="581.8" width="7" height="18.2" fill="#58246c"/>
<rect x="389.82" y="581.8" width="7" height="16.95" fill="#58246c"/>
<rect x="398.45" y="581.8" width="7" height="15.7" fill="#58246c"/>
<rect x="407.08" y="581.8" width="7" height="14.9" fill="#58246c"/>
<rect x="415.71" y="581.8" width="7" height="8.9" fill="#58246c"/>
<rect x="424.34" y="581.8" width="7" height="7.3" fill="#58246c"/>
<rect x="432.97" y="581.8" width="7" height="7.3" fill="#58246c"/>
<rect x="441.6" y="574.6" width="7" height="7.2" fill="#58246c"/>
<rect x="450.23" y="572.6" width="7" height="9.2" fill="#58246c"/>
<rect x="458.86" y="542" width="7" height="39.8" fill="#58246c"/>
<line x1="49.3" y1="581.8" x2="471" y2="581.8" stroke="#1a1a1a" stroke-width="0.9"/>
<line x1="49.3" y1="609.03" x2="471" y2="609.03" stroke="#1a1a1a" stroke-width="1.0" stroke-dasharray="2.9 2.378" stroke-dashoffset="3.378"/>
<text x="473.6" y="611.78" font-size="7.6" textLength="45.9" lengthAdjust="spacingAndGlyphs" style="stroke-width:0.15px">35% decrease</text>
<line x1="49.3" y1="659.6" x2="471" y2="659.6" stroke="#1a1a1a" stroke-width="1.0" stroke-dasharray="2.9 2.378" stroke-dashoffset="3.378"/>
<line x1="49.3" y1="531.6" x2="49.3" y2="671.1" stroke="#1a1a1a" stroke-width="1.5"/>
<line x1="48.7" y1="670.5" x2="471" y2="670.5" stroke="#1a1a1a" stroke-width="1.1"/>
<line x1="46" y1="535.12" x2="49.3" y2="535.12" stroke="#1a1a1a" stroke-width="0.9"/>
<text x="43.0" y="537.82" font-size="7.6" text-anchor="end" style="stroke-width:0.3px">60</text>
<line x1="46" y1="550.68" x2="49.3" y2="550.68" stroke="#1a1a1a" stroke-width="0.9"/>
<text x="43.0" y="553.38" font-size="7.6" text-anchor="end" style="stroke-width:0.3px">40</text>
<line x1="46" y1="566.24" x2="49.3" y2="566.24" stroke="#1a1a1a" stroke-width="0.9"/>
<text x="43.0" y="568.94" font-size="7.6" text-anchor="end" style="stroke-width:0.3px">20</text>
<line x1="46" y1="581.8" x2="49.3" y2="581.8" stroke="#1a1a1a" stroke-width="0.9"/>
<text x="43.0" y="584.5" font-size="7.6" text-anchor="end" style="stroke-width:0.3px">0</text>
<line x1="46" y1="597.36" x2="49.3" y2="597.36" stroke="#1a1a1a" stroke-width="0.9"/>
<text x="43.0" y="600.06" font-size="7.6" text-anchor="end" style="stroke-width:0.3px">−20</text>
<line x1="46" y1="612.92" x2="49.3" y2="612.92" stroke="#1a1a1a" stroke-width="0.9"/>
<text x="43.0" y="615.62" font-size="7.6" text-anchor="end" style="stroke-width:0.3px">−40</text>
<line x1="46" y1="628.48" x2="49.3" y2="628.48" stroke="#1a1a1a" stroke-width="0.9"/>
<text x="43.0" y="631.18" font-size="7.6" text-anchor="end" style="stroke-width:0.3px">−60</text>
<line x1="46" y1="644.04" x2="49.3" y2="644.04" stroke="#1a1a1a" stroke-width="0.9"/>
<text x="43.0" y="646.74" font-size="7.6" text-anchor="end" style="stroke-width:0.3px">−80</text>
<line x1="46" y1="659.6" x2="49.3" y2="659.6" stroke="#1a1a1a" stroke-width="0.9"/>
<text x="43.0" y="662.3" font-size="7.6" text-anchor="end" style="stroke-width:0.3px">−100</text>
<text x="56.75" y="535.7" font-size="7.2" text-anchor="middle" style="stroke-width:0.2px">H</text>
<text x="65.38" y="535.7" font-size="7.2" text-anchor="middle" style="stroke-width:0.2px">H</text>
<text x="74.01" y="535.7" font-size="7.2" text-anchor="middle" style="stroke-width:0.2px">H</text>
<text x="82.64" y="535.7" font-size="7.2" text-anchor="middle" style="stroke-width:0.2px">H</text>
<text x="91.27" y="535.7" font-size="7.2" text-anchor="middle" style="stroke-width:0.2px">M</text>
<text x="99.9" y="535.7" font-size="7.2" text-anchor="middle" style="stroke-width:0.2px">H</text>
<text x="108.53" y="535.7" font-size="7.2" text-anchor="middle" style="stroke-width:0.2px">A</text>
<text x="117.16" y="535.7" font-size="7.2" text-anchor="middle" style="stroke-width:0.2px">H</text>
<text x="125.79" y="535.7" font-size="7.2" text-anchor="middle" style="stroke-width:0.2px">H</text>
<text x="134.42" y="535.7" font-size="7.2" text-anchor="middle" style="stroke-width:0.2px">H</text>
<text x="143.05" y="535.7" font-size="7.2" text-anchor="middle" style="stroke-width:0.2px">M</text>
<text x="151.68" y="535.7" font-size="7.2" text-anchor="middle" style="stroke-width:0.2px">H</text>
<text x="160.31" y="535.7" font-size="7.2" text-anchor="middle" style="stroke-width:0.2px">H</text>
<text x="168.94" y="535.7" font-size="7.2" text-anchor="middle" style="stroke-width:0.2px">H</text>
<text x="177.57" y="535.7" font-size="7.2" text-anchor="middle" style="stroke-width:0.2px">M</text>
<text x="186.2" y="535.7" font-size="7.2" text-anchor="middle" style="stroke-width:0.2px">H</text>
<text x="194.83" y="535.7" font-size="7.2" text-anchor="middle" style="stroke-width:0.2px">M</text>
<text x="203.46" y="535.7" font-size="7.2" text-anchor="middle" style="stroke-width:0.2px">H</text>
<text x="212.09" y="535.7" font-size="7.2" text-anchor="middle" style="stroke-width:0.2px">H</text>
<text x="220.72" y="535.7" font-size="7.2" text-anchor="middle" style="stroke-width:0.2px">H</text>
<text x="229.35" y="535.7" font-size="7.2" text-anchor="middle" style="stroke-width:0.2px">H</text>
<text x="237.98" y="535.7" font-size="7.2" text-anchor="middle" style="stroke-width:0.2px">M</text>
<text x="246.61" y="535.7" font-size="7.2" text-anchor="middle" style="stroke-width:0.2px">H</text>
<text x="255.24" y="535.7" font-size="7.2" text-anchor="middle" style="stroke-width:0.2px">H</text>
<text x="263.87" y="535.7" font-size="7.2" text-anchor="middle" style="stroke-width:0.2px">A</text>
<text x="272.5" y="535.7" font-size="7.2" text-anchor="middle" style="stroke-width:0.2px">H</text>
<text x="281.13" y="535.7" font-size="7.2" text-anchor="middle" style="stroke-width:0.2px">H</text>
<text x="289.76" y="535.7" font-size="7.2" text-anchor="middle" style="stroke-width:0.2px">H</text>
<text x="298.39" y="535.7" font-size="7.2" text-anchor="middle" style="stroke-width:0.2px">H</text>
<text x="307.02" y="535.7" font-size="7.2" text-anchor="middle" style="stroke-width:0.2px">M</text>
<text x="315.65" y="535.7" font-size="7.2" text-anchor="middle" style="stroke-width:0.2px">A</text>
<text x="324.28" y="535.7" font-size="7.2" text-anchor="middle" style="stroke-width:0.2px">M</text>
<text x="332.91" y="535.7" font-size="7.2" text-anchor="middle" style="stroke-width:0.2px">H</text>
<text x="341.54" y="535.7" font-size="7.2" text-anchor="middle" style="stroke-width:0.2px">H</text>
<text x="350.17" y="535.7" font-size="7.2" text-anchor="middle" style="stroke-width:0.2px">M</text>
<text x="358.8" y="535.7" font-size="7.2" text-anchor="middle" style="stroke-width:0.2px">M</text>
<text x="367.43" y="535.7" font-size="7.2" text-anchor="middle" style="stroke-width:0.2px">H</text>
<text x="376.06" y="535.7" font-size="7.2" text-anchor="middle" style="stroke-width:0.2px">H</text>
<text x="384.69" y="535.7" font-size="7.2" text-anchor="middle" style="stroke-width:0.2px">A</text>
<text x="393.32" y="535.7" font-size="7.2" text-anchor="middle" style="stroke-width:0.2px">M</text>
<text x="401.95" y="535.7" font-size="7.2" text-anchor="middle" style="stroke-width:0.2px">M</text>
<text x="410.58" y="535.7" font-size="7.2" text-anchor="middle" style="stroke-width:0.2px">H</text>
<text x="419.21" y="535.7" font-size="7.2" text-anchor="middle" style="stroke-width:0.2px">A</text>
<text x="427.84" y="535.7" font-size="7.2" text-anchor="middle" style="stroke-width:0.2px">M</text>
<text x="436.47" y="535.7" font-size="7.2" text-anchor="middle" style="stroke-width:0.2px">H</text>
<text x="445.1" y="535.7" font-size="7.2" text-anchor="middle" style="stroke-width:0.2px">H</text>
<text x="453.73" y="535.7" font-size="7.2" text-anchor="middle" style="stroke-width:0.2px">A</text>
<text x="462.36" y="535.7" font-size="7.2" text-anchor="middle" style="stroke-width:0.2px">H</text>
<text x="190.8" y="682.6" font-size="7.9" textLength="139.5" lengthAdjust="spacingAndGlyphs" style="stroke-width:0.12px">Diagnosis: A, ASM; H, SM-AHN; M, MCL</text>
<text x="0.4" y="530.4" font-size="10.5" font-weight="bold" style="stroke-width:0.55px">D</text>
<text transform="translate(18.6 602.85) rotate(-90) scale(0.725 1)" text-anchor="middle" font-size="9" style="stroke-width:0.45px">Maximum percent change from baseline</text>
</svg>
</body></html>
